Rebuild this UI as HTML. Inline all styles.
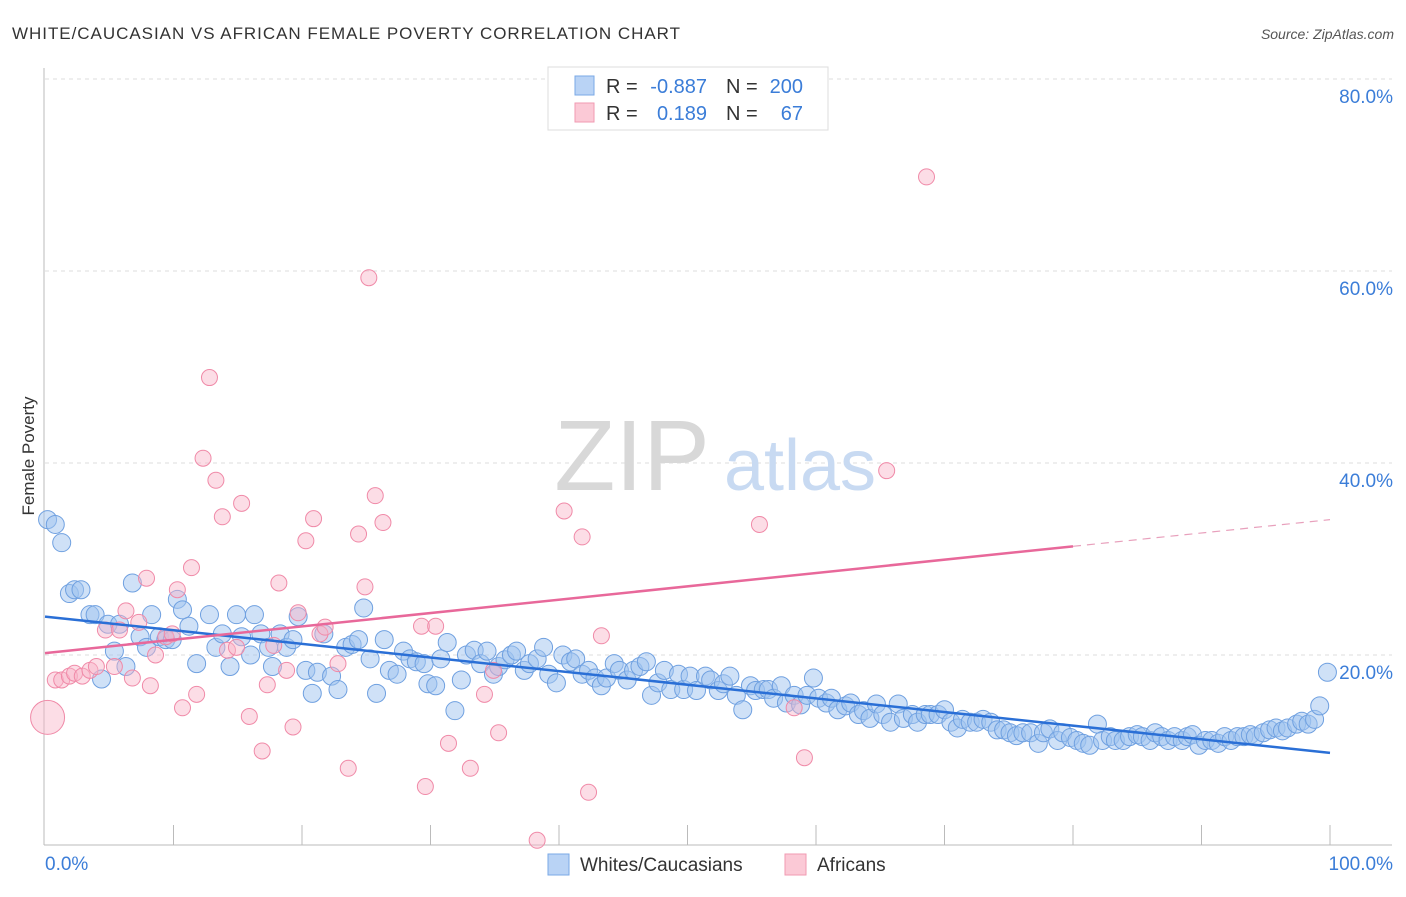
<!DOCTYPE html>
<html><head><meta charset="utf-8"><style>
body{margin:0;background:#fff;font-family:"Liberation Sans",sans-serif}
svg text{font-family:"Liberation Sans",sans-serif}
</style></head><body>
<svg id="chart" width="1406" height="892">
<text x="12" y="39" font-size="17" fill="#333" textLength="668" lengthAdjust="spacing">WHITE/CAUCASIAN VS AFRICAN FEMALE POVERTY CORRELATION CHART</text>
<text x="1394" y="39" font-size="14" fill="#555" font-style="italic" text-anchor="end">Source: ZipAtlas.com</text>
<text x="34" y="456" font-size="17" fill="#333" text-anchor="middle" transform="rotate(-90 34 456)">Female Poverty</text>
<g id="grid"></g>
<text x="632" y="490" font-size="100" fill="#d8d8d8" font-family="Liberation Serif" text-anchor="middle">ZIP</text>
<text x="800" y="490" font-size="72" fill="#c8daf2" text-anchor="middle">atlas</text>
<g id="marks"></g>
<g id="lines"></g>
<g>
<rect x="548" y="67" width="280" height="63" fill="#fff" stroke="#ddd"/>
<rect x="575" y="76" width="19" height="19" fill="#b9d3f5" stroke="#7aa8e6"/>
<rect x="575" y="103" width="19" height="19" fill="#fbc9d6" stroke="#f09ab2"/>
<text x="606" y="93" font-size="20" fill="#333">R =</text>
<text x="707" y="93" font-size="20" fill="#3b7dd8" text-anchor="end">-0.887</text>
<text x="726" y="93" font-size="20" fill="#333">N =</text>
<text x="803" y="93" font-size="20" fill="#3b7dd8" text-anchor="end">200</text>
<text x="606" y="120" font-size="20" fill="#333">R =</text>
<text x="707" y="120" font-size="20" fill="#3b7dd8" text-anchor="end">0.189</text>
<text x="726" y="120" font-size="20" fill="#333">N =</text>
<text x="803" y="120" font-size="20" fill="#3b7dd8" text-anchor="end">67</text>
</g>
<g>
<rect x="548" y="854" width="21" height="21" fill="#b9d3f5" stroke="#7aa8e6"/>
<text x="580" y="871" font-size="19" fill="#333">Whites/Caucasians</text>
<rect x="785" y="854" width="21" height="21" fill="#fbc9d6" stroke="#f09ab2"/>
<text x="817" y="871" font-size="19" fill="#333">Africans</text>
</g>
</svg>
<script>
const yTicks=[20,40,60,80];
const xTickLabels=["0.0%","100.0%"];
const whiteX=[0.2,0.8,1.3,1.9,2.3,2.8,3.5,3.9,4.4,4.9,5.4,5.8,6.3,6.8,7.4,7.9,8.3,8.9,9.4,9.9,10.3,10.7,11.2,11.8,12.8,13.3,13.8,14.4,14.9,15.3,16.0,16.3,16.8,17.4,17.7,18.3,18.8,19.3,19.7,20.3,20.8,21.2,21.7,22.3,22.8,23.4,23.9,24.4,24.8,25.3,25.8,26.4,26.8,27.4,27.9,28.4,28.9,29.5,29.8,30.4,30.8,31.3,31.9,32.4,32.8,33.4,33.9,34.4,34.9,35.3,35.8,36.3,36.7,37.3,37.7,38.3,38.8,39.2,39.8,40.3,40.9,41.3,41.8,42.3,42.8,43.3,43.7,44.3,44.7,45.3,45.8,46.3,46.8,47.2,47.7,48.2,48.7,49.3,49.7,50.2,50.7,51.4,51.8,52.4,52.8,53.3,53.8,54.3,54.9,55.3,55.9,56.3,56.7,57.3,57.7,58.3,58.8,59.3,59.8,60.2,60.8,61.2,61.7,62.3,62.7,63.3,63.7,64.2,64.7,65.2,65.8,66.4,66.8,67.5,67.9,68.5,68.9,69.5,70.0,70.5,71.0,71.4,72.0,72.5,73.0,73.6,74.1,74.6,75.1,75.6,76.1,76.7,77.3,77.7,78.2,78.8,79.2,79.8,80.3,80.8,81.3,81.9,82.3,82.9,83.3,83.9,84.4,85.0,85.4,86.0,86.4,86.9,87.4,87.9,88.5,88.9,89.3,89.8,90.3,90.8,91.3,91.8,92.3,92.8,93.3,93.8,94.2,94.8,95.3,95.8,96.3,96.7,97.4,97.8,98.3,98.8,99.2,99.8];
const whiteY=[34.1,33.6,31.7,26.4,26.8,26.8,24.2,24.2,17.5,23.2,20.4,23.2,18.8,27.5,21.9,20.8,24.2,21.9,21.6,21.6,25.8,24.7,23.0,19.1,24.2,20.8,22.2,18.8,24.2,21.9,20.0,24.2,22.2,20.8,18.8,22.2,20.8,21.6,24.0,18.4,16.0,18.2,22.2,17.8,16.4,20.8,21.1,21.6,24.9,19.6,16.0,21.6,18.4,18.0,20.4,19.6,19.3,19.1,17.0,16.8,19.6,21.3,14.2,17.4,20.0,20.5,19.1,20.4,18.0,18.8,19.5,20.0,20.4,18.4,19.1,19.6,20.8,18.0,17.1,20.0,19.3,19.6,18.0,18.4,17.6,16.8,17.6,19.1,18.4,17.4,18.4,18.8,19.3,15.8,17.1,18.4,16.4,18.0,16.4,17.8,16.3,17.8,17.4,16.3,17.0,17.8,15.8,14.3,16.8,16.3,16.4,16.4,15.5,16.8,15.0,15.8,14.8,15.8,17.6,15.5,15.0,15.5,14.3,14.7,15.0,13.8,14.2,13.4,14.9,13.8,13.0,14.9,13.4,13.8,13.0,13.8,13.8,13.8,14.3,13.0,12.4,13.3,13.0,13.0,13.3,13.0,12.2,12.2,11.9,11.6,11.9,11.9,10.8,11.9,12.3,11.1,11.9,11.4,11.1,10.8,10.6,12.8,11.1,11.5,11.1,11.1,11.5,11.7,11.5,11.1,11.9,11.5,11.1,11.5,11.1,11.5,11.7,10.6,11.1,11.1,10.8,11.5,11.1,11.5,11.5,11.7,11.5,11.9,12.2,12.4,12.1,12.4,12.8,13.1,12.8,13.3,14.7,18.2];
const africanX=[0.2,0.8,1.3,1.9,2.3,2.9,3.5,4.0,4.7,5.4,5.8,6.3,6.8,7.3,7.9,8.2,8.6,9.4,9.9,10.3,10.7,11.4,11.8,12.3,12.8,13.3,13.8,14.2,14.9,15.3,15.9,16.9,17.3,17.8,18.2,18.8,19.3,19.7,20.3,20.9,21.4,21.8,22.8,23.6,24.4,24.9,25.2,25.7,26.3,29.3,29.6,30.4,31.4,33.1,34.2,34.9,35.3,38.3,40.4,41.8,42.3,43.3,55.6,58.3,59.1,65.5,68.6];
const africanY=[13.5,17.4,17.4,17.8,18.1,17.8,18.4,18.8,22.6,18.8,22.6,24.6,17.6,23.4,28.0,16.8,20.0,21.9,22.2,26.8,14.5,29.1,15.9,40.5,48.9,38.2,34.4,20.5,20.8,35.8,13.6,10.0,16.9,21.0,27.5,18.4,12.5,24.4,31.9,34.2,22.2,22.9,19.1,8.2,32.6,27.1,59.3,36.6,33.8,23.0,6.3,23.0,10.8,8.2,15.9,18.4,11.9,0.7,35.0,32.3,5.7,22.0,33.6,14.5,9.3,39.2,69.8];
const whiteTrend=[24.0,9.8];
const africanTrend=[20.2,34.1];

const NS="http://www.w3.org/2000/svg";
const X0=45,X1=1330,Y0=847,PY=9.6;
const sx=v=>X0+(X1-X0)*v/100;
const sy=v=>Y0-v*PY;
function mk(t,a,p){const e=document.createElementNS(NS,t);for(const k in a)e.setAttribute(k,a[k]);p.appendChild(e);return e;}
const grid=document.getElementById('grid');
yTicks.forEach(t=>{
  const l=mk('line',{x1:45,x2:1392,y1:sy(t),y2:sy(t),stroke:'#ddd','stroke-dasharray':'4,4'},grid);
  
  
  const tx=mk('text',{x:1393,y:sy(t)+24,'font-size':19,fill:'#3b7dd8','text-anchor':'end'},grid);
  tx.textContent=t.toFixed(1)+'%';
  
  
});
const ax=mk('line',{x1:44,x2:44,y1:68,y2:845,stroke:'#bbb'},grid);


const bx=mk('line',{x1:44,x2:1392,y1:845,y2:845,stroke:'#bbb'},grid);


for(let i=1;i<=10;i++){
  const t=mk('line',{x1:sx(i*10),x2:sx(i*10),y1:825,y2:845,stroke:'#bbb'},grid);
  
  
}
const xl0=mk('text',{x:45,y:870,'font-size':19,fill:'#3b7dd8'},grid);xl0.textContent=xTickLabels[0];


const xl1=mk('text',{x:1393,y:870,'font-size':19,fill:'#3b7dd8','text-anchor':'end'},grid);xl1.textContent=xTickLabels[1];



const marks=document.getElementById('marks');
whiteX.forEach((x,i)=>{
  const c=mk('circle',{cx:sx(x),cy:sy(whiteY[i]),r:9,fill:'rgba(160,196,240,0.5)',stroke:'#6fa0e0','stroke-width':1},marks);
  
  
});
africanX.forEach((x,i)=>{
  const c=mk('circle',{cx:sx(x),cy:sy(africanY[i]),r:i===0?17:8,fill:'rgba(248,180,200,0.45)',stroke:'#f08aa8','stroke-width':1},marks);
  
  
});
const lines=document.getElementById('lines');
const wl=mk('line',{x1:sx(0),y1:sy(whiteTrend[0]),x2:sx(100),y2:sy(whiteTrend[1]),stroke:'#2a6fd6','stroke-width':2.5},lines);


const a80=africanTrend[0]+(africanTrend[1]-africanTrend[0])*0.8;
const al=mk('line',{x1:sx(0),y1:sy(africanTrend[0]),x2:sx(80),y2:sy(a80),stroke:'#e8689a','stroke-width':2.5},lines);


const ad=mk('line',{x1:sx(80),y1:sy(a80),x2:sx(100),y2:sy(africanTrend[1]),stroke:'#e8a0bc','stroke-width':1.2,'stroke-dasharray':'8,6'},lines);


</script>
</body></html>
